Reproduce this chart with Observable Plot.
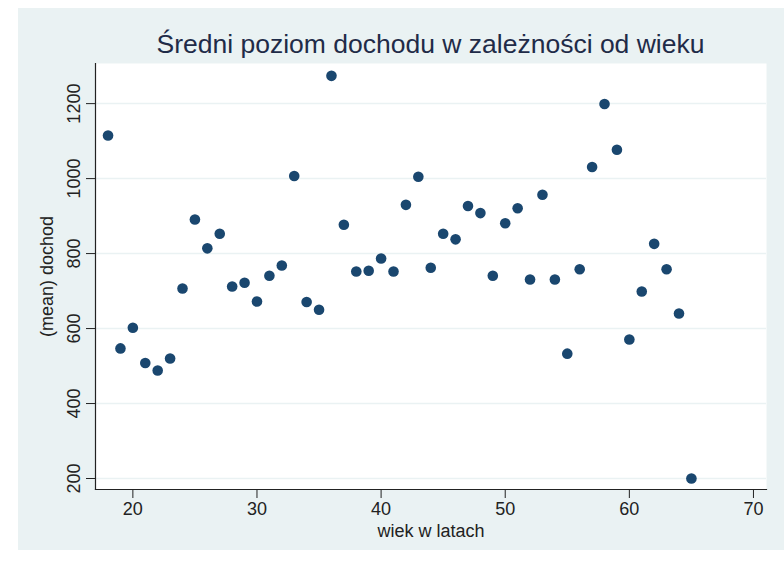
<!DOCTYPE html>
<html>
<head>
<meta charset="utf-8">
<script src="https://cdn.jsdelivr.net/npm/d3@7"></script>
<script src="https://cdn.jsdelivr.net/npm/@observablehq/plot@0.6"></script>
<style>
  html, body { margin: 0; padding: 0; background: #ffffff; }
  #wrap { position: absolute; left: 18px; top: 8px; width: 766px; height: 542px; background: #eaf2f3; }
  #title { position: absolute; left: 77px; right: 18px; top: 23px; text-align: center;
           font: 26.5px "Liberation Sans", Arial, sans-serif; line-height: 1; color: #1f2b48; white-space: nowrap; }
  #chart { position: absolute; left: 0; top: 0; }
</style>
</head>
<body>
<div id="wrap"><div id="chart"></div><div id="title">Średni poziom dochodu w zależności od wieku</div></div>
<script>
const ages = [18,19,20,21,22,23,24,25,26,27,28,29,30,31,32,33,34,35,36,37,38,39,40,41,
              42,43,44,45,46,47,48,49,50,51,52,53,54,55,56,57,58,59,60,61,62,63,64,65];
const meanIncome = [1115,547,602,508,488,520,707,891,814,853,712,722,672,741,768,1007,671,650,1274,877,752,754,787,752,
                    930,1005,762,853,838,927,908,741,881,921,731,957,731,533,758,1031,1199,1077,571,699,826,758,640,200];
const xTicks = [20,30,40,50,60,70];
const yTicks = [200,400,600,800,1000,1200];
const xLabel = "wiek w latach";
const yLabel = "(mean) dochod";

const data = ages.map((a, i) => ({age: a, income: meanIncome[i]}));

const chart = Plot.plot({
  width: 766,
  height: 542,
  marginLeft: 77,
  marginTop: 55,
  marginRight: 18,
  marginBottom: 61,
  style: {background: "transparent", fontFamily: "'Liberation Sans', Arial, sans-serif", color: "#222"},
  x: {domain: [16.99, 71.05]},
  y: {domain: [170.7, 1307]},
  marks: [
    Plot.frame({fill: "white", stroke: "none"}),
    Plot.gridY(yTicks, {stroke: "#eaf2f3", strokeOpacity: 1, strokeWidth: 1.5}),
    Plot.frame({anchor: "left", stroke: "#222", strokeWidth: 1.2}),
    Plot.frame({anchor: "bottom", stroke: "#222", strokeWidth: 1.2}),
    Plot.axisY({ticks: yTicks, tickFormat: d => String(d), tickRotate: -90, tickSize: 9, tickPadding: 7, fontSize: 18,
                label: yLabel, labelAnchor: "center", labelArrow: "none", labelOffset: 55, stroke: "#222"}),
    Plot.axisX({ticks: xTicks, tickFormat: d => String(d), tickSize: 9, tickPadding: 4, fontSize: 18,
                label: xLabel, labelAnchor: "center", labelArrow: "none", labelOffset: 47, stroke: "#222"}),
    Plot.dot(data, {x: "age", y: "income", r: 5.3, fill: "#1a476f", stroke: "none"})
  ]
});
document.getElementById("chart").appendChild(chart);
</script>
</body>
</html>
